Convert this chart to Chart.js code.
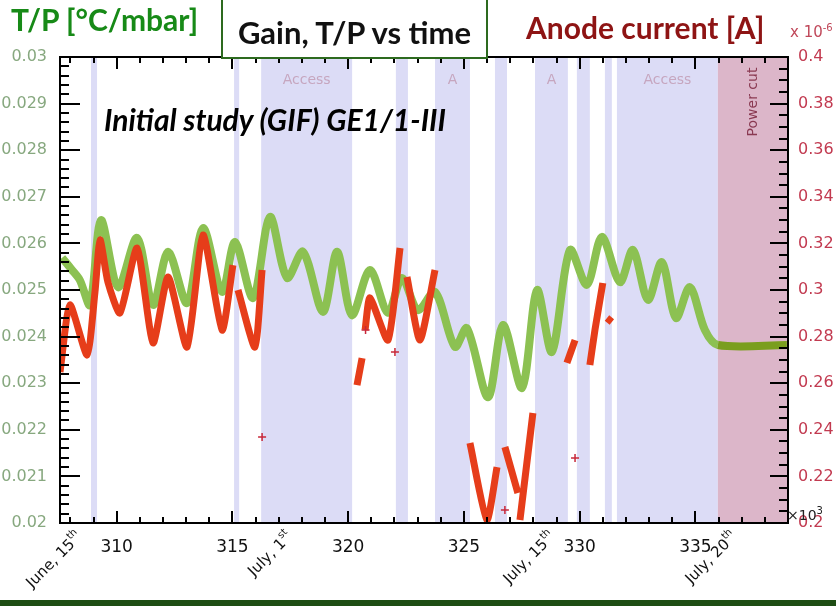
<!DOCTYPE html>
<html>
<head>
<meta charset="utf-8">
<script src="https://cdn.jsdelivr.net/npm/chart.js@4.4.0/dist/chart.umd.min.js"></script>
<style>
  html, body { margin: 0; padding: 0; background: #fff; }
  #wrap { position: relative; width: 836px; height: 606px; overflow: hidden; font-family: Lato, "Open Sans", sans-serif; }
  #chart { position: absolute; left: 0; top: 0; }
  #ticks { position: absolute; left: 0; top: 0; width: 836px; height: 606px; pointer-events: none; }
  #ticks div { position: absolute; background: #000; }
  .lbl { position: absolute; white-space: nowrap; font-weight: bold; }
  #tp { left: 11px; top: 1px; font-size: 30px; color: #178a17; }
  #box { left: 221px; top: -3px; width: 263px; height: 58px; border: 2px solid #2d6a1f; background: #fff;
         font-size: 31px; color: #111; text-align: center; line-height: 66px; }
  #anode { left: 526px; top: 9px; font-size: 30px; color: #8e1414; }
  #mult { left: 790px; top: 22px; font-size: 15px; font-weight: normal; color: #c0485a; font-family: "DejaVu Sans", sans-serif; }
  #xmult { left: 787px; top: 505px; font-size: 14px; font-weight: normal; color: #222; font-family: "DejaVu Sans", sans-serif; }
  #study { left: 104px; top: 101px; font-size: 30px; font-style: italic; color: #000; }
  #bar { position: absolute; left: 0; top: 600px; width: 836px; height: 6px; background: #1e4d14; }
</style>
</head>
<body>
<div id="wrap">
  <canvas id="chart" width="836" height="606"></canvas>
  <div id="ticks"></div>
  <div class="lbl" id="tp">T/P [°C/mbar]</div>
  <div class="lbl" id="box">Gain, T/P vs time</div>
  <div class="lbl" id="anode">Anode current [A]</div>
  <div class="lbl" id="mult">x 10<sup style="font-size:10px">-6</sup></div>
  <div class="lbl" id="xmult">×10<sup style="font-size:10px">3</sup></div>
  <div class="lbl" id="study">Initial study (GIF) GE1/1-III</div>
  <div id="bar"></div>
</div>
<script>
// axis ranges / tick labels
const xTicks = [310, 315, 320, 325, 330, 335];
const leftTicks = [0.02, 0.021, 0.022, 0.023, 0.024, 0.025, 0.026, 0.027, 0.028, 0.029, 0.03];
const rightTicks = [0.2, 0.22, 0.24, 0.26, 0.28, 0.3, 0.32, 0.34, 0.36, 0.38, 0.4];

// T/P (left axis)
const tpX = [307.64, 308.07, 308.41, 308.85, 309.32, 310.06, 310.88, 311.57, 312.22, 313.04, 313.73, 314.55,
  315.11, 315.89, 316.62, 317.36, 318.05, 318.91, 319.52, 320.16, 320.94, 321.72, 322.32, 323.01, 323.75,
  324.61, 325.13, 326.04, 326.69, 327.51, 328.16, 328.80, 329.58, 330.31, 330.96, 331.74, 332.30, 332.95,
  333.55, 334.16, 334.76, 335.41, 335.97, 338.95];
const tpY = [0.02569, 0.02543, 0.02521, 0.02468, 0.0265, 0.02506, 0.02612, 0.02468, 0.02582, 0.02472, 0.02633, 0.02496,
  0.02603, 0.02483, 0.02657, 0.02526, 0.02582, 0.02453, 0.02582, 0.02446, 0.02543, 0.02451, 0.02526, 0.02457, 0.02496,
  0.02378, 0.02418, 0.0227, 0.02425, 0.0229, 0.025, 0.02367, 0.02586, 0.02511, 0.02614, 0.02517, 0.02586, 0.02479,
  0.0256, 0.0244, 0.02506, 0.02414, 0.02382, 0.02382];

// anode current, x1e-6 A (right axis); null = no data
const curX = [307.55, 307.98, 308.72, 309.06, 309.28, 309.62, 310.14, 310.88, 311.57, 312.22, 313.04, 313.73, 314.55, 315.02, 315.1,
  315.24, 315.97, 316.28, 316.3,
  320.38, 320.60, 320.65,
  320.73, 320.94, 321.72, 322.24, 322.4,
  322.54, 323.10, 323.75, 324.0,
  325.26, 325.99, 326.43, 326.6,
  326.77, 327.33, 327.38,
  327.42, 327.98, 328.5,
  329.45, 329.80, 330.0,
  330.44, 330.66, 331.0, 331.1,
  331.18, 331.39];
const curY = [0.2648, 0.2936, 0.2721, 0.2991, 0.3215, 0.3034, 0.2901, 0.318, 0.2773, 0.3056, 0.2755, 0.3236, 0.2828, 0.3107, null,
  0.300, 0.2755, 0.3086, null,
  0.2592, 0.2708, null,
  0.2828, 0.2966, 0.2785, 0.318, null,
  0.3056, 0.2785, 0.3086, null,
  0.2343, 0.2013, 0.224, null,
  0.2326, 0.2129, null,
  0.2013, 0.2472, null,
  0.2687, 0.2785, null,
  0.2678, 0.2828, 0.303, null,
  0.288, 0.2863];
const strayX = [316.28, 320.75, 322.02, 326.77, 329.80];
const strayY = [0.2369, 0.2828, 0.2734, 0.2056, 0.2279];

// shaded periods
const bandFrom = [308.89, 315.07, 316.24, 322.06, 323.75, 326.34, 328.07, 329.88, 331.09, 331.61, 335.97];
const bandTo   = [309.15, 315.29, 320.17, 322.58, 325.26, 326.86, 329.49, 330.44, 331.39, 335.97, 339.0];
const bandText = ['', '', 'Access', '', 'A', '', 'A', '', '', 'Access', 'Power cut'];

// date annotations under the axis
const dateAt = [308.41, 317.49, 328.85, 336.71];
const dateText = ['June, 15', 'July, 1', 'July, 15', 'July, 20'];
const dateSup = ['th', 'st', 'th', 'th'];

// pixel position on a scale, falling back to the scale's own range
function pos(scale, v, lo, hi) {
  const p = scale.getPixelForValue(v);
  if (Number.isFinite(p)) return p;
  const t = (v - scale.min) / (scale.max - scale.min);
  return scale.isHorizontal() ? lo + t * (hi - lo) : hi - t * (hi - lo);
}

// ROOT style inward ticks, as small absolutely placed divs
function buildTicks(chart) {
  const host = document.getElementById('ticks');
  const a = chart.chartArea;
  const sx = chart.scales.x, sy = chart.scales.y, sr = chart.scales.y1;
  const parts = [];
  const add = (l, t, w, h) => parts.push(
    '<div style="left:' + l.toFixed(1) + 'px;top:' + t.toFixed(1) + 'px;width:' + w + 'px;height:' + h + 'px"></div>');
  add(a.left - 1, a.top - 1, a.right - a.left + 2, 2);
  add(a.left - 1, a.bottom - 1, a.right - a.left + 2, 2);
  add(a.left - 1, a.top - 1, 2, a.bottom - a.top + 2);
  add(a.right - 1, a.top - 1, 2, a.bottom - a.top + 2);
  for (let v = 308; v <= 338; v++) {
    const px = Math.round(pos(sx, v, a.left, a.right));
    const len = v % 5 === 0 ? 12 : 6;
    add(px - 1, a.bottom - len, 2, len);
    add(px - 1, a.top, 2, len);
  }
  for (let k = 0; k <= 50; k++) {
    const py = Math.round(pos(sy, 0.02 + k * 0.0002, a.top, a.bottom));
    add(a.left, py - 1, k % 5 === 0 ? 20 : 9, 2);
  }
  for (let k = 0; k <= 40; k++) {
    const py = Math.round(pos(sr, 0.2 + k * 0.005, a.top, a.bottom));
    const len = k % 4 === 0 ? 18 : 9;
    add(a.right - len, py - 1, len, 2);
  }
  host.innerHTML = parts.join('');
}

function drawDates(chart) {
  const ctx = chart.ctx, a = chart.chartArea, sx = chart.scales.x;
  ctx.save();
  ctx.fillStyle = '#111';
  dateText.forEach((t, i) => {
    ctx.save();
    ctx.translate(sx.getPixelForValue(dateAt[i]), a.bottom + 12);
    ctx.rotate(-Math.PI / 4);
    ctx.textBaseline = 'middle';
    ctx.font = '15px "DejaVu Sans"';
    const w1 = ctx.measureText(t).width;
    ctx.font = '10px "DejaVu Sans"';
    const w2 = ctx.measureText(dateSup[i]).width;
    ctx.font = '15px "DejaVu Sans"';
    ctx.fillText(t, -w1 - w2, 0);
    ctx.font = '10px "DejaVu Sans"';
    ctx.fillText(dateSup[i], -w2, -6);
    ctx.restore();
  });
  ctx.restore();
}

const decor = {
  id: 'decor',
  beforeDatasetsDraw(chart) {
    const {ctx, chartArea: a, scales: {x}} = chart;
    ctx.save();
    bandFrom.forEach((f, i) => {
      const x0 = x.getPixelForValue(f), x1 = x.getPixelForValue(bandTo[i]);
      ctx.fillStyle = bandText[i] === 'Power cut' ? '#dcb6c9' : '#dcdcf6';
      ctx.fillRect(x0, a.top, x1 - x0, a.bottom - a.top);
      const t = bandText[i];
      if (!t) return;
      const cx = (x0 + x1) / 2;
      ctx.textAlign = 'center';
      ctx.textBaseline = 'middle';
      ctx.font = '14px "DejaVu Sans"';
      if (t === 'Power cut') {
        ctx.save();
        ctx.translate(cx, 102);
        ctx.rotate(-Math.PI / 2);
        ctx.fillStyle = '#8a3a52';
        ctx.fillText(t, 0, 0);
        ctx.restore();
      } else {
        ctx.fillStyle = '#c6a6bf';
        ctx.fillText(t, cx, 80);
      }
    });
    ctx.restore();
  },
  afterDraw(chart) {
    drawDates(chart);
    buildTicks(chart);
  }
};

const fmt = v => String(+v.toFixed(4));

new Chart(document.getElementById('chart'), {
  type: 'line',
  data: {
    datasets: [
      {
        data: strayX.map((v, i) => ({x: v, y: strayY[i]})),
        yAxisID: 'y1', showLine: false,
        pointStyle: 'cross', pointRadius: 4, borderWidth: 1.5,
        borderColor: '#c8283a', backgroundColor: '#c8283a'
      },
      {
        data: curX.map((v, i) => ({x: v, y: curY[i]})),
        yAxisID: 'y1', borderColor: '#e63d1a', borderWidth: 7,
        pointRadius: 0, tension: 0.2, spanGaps: false
      },
      {
        data: tpX.map((v, i) => ({x: v, y: tpY[i]})),
        yAxisID: 'y', borderColor: '#8cc152', borderWidth: 8,
        pointRadius: 0, tension: 0.3,
        segment: { borderColor: c => c.p0.parsed.x >= 335.9 ? '#7a9e1e' : undefined }
      }
    ]
  },
  options: {
    responsive: false,
    animation: false,
    layout: { padding: { top: 57, left: 0, right: 0, bottom: 0 } },
    plugins: { legend: { display: false }, tooltip: { enabled: false } },
    scales: {
      x: {
        type: 'linear', min: 307.55, max: 339.0,
        grid: { display: false }, border: { display: false },
        afterBuildTicks: s => { s.ticks = xTicks.map(v => ({value: v})); },
        afterFit: s => { s.height = 83; },
        ticks: { color: '#111', font: { family: 'DejaVu Sans', size: 17 }, padding: 6, maxRotation: 0, autoSkip: false }
      },
      y: {
        position: 'left', min: 0.02, max: 0.03,
        grid: { display: false }, border: { display: false },
        afterBuildTicks: s => { s.ticks = leftTicks.map(v => ({value: v})); },
        afterFit: s => { s.width = 60; },
        ticks: { color: '#87a87f', font: { family: 'DejaVu Sans', size: 16 }, padding: 5, callback: fmt }
      },
      y1: {
        position: 'right', min: 0.2, max: 0.4,
        grid: { display: false }, border: { display: false },
        afterBuildTicks: s => { s.ticks = rightTicks.map(v => ({value: v})); },
        afterFit: s => { s.width = 48; },
        ticks: { color: '#c23a50', font: { family: 'DejaVu Sans', size: 16 }, padding: 2, callback: fmt }
      }
    }
  },
  plugins: [decor]
});
</script>
</body>
</html>
